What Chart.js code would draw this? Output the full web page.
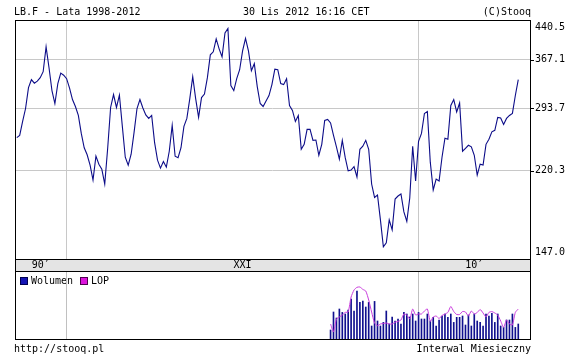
<!DOCTYPE html>
<html>
<head>
<meta charset="utf-8">
<script src="https://cdn.jsdelivr.net/npm/chart.js@4.4.0/dist/chart.umd.min.js"></script>
<style>
html, body { margin: 0; padding: 0; background: #fff; }
#wrap { position: relative; width: 567px; height: 363px; }
#wrap canvas { position: absolute; left: 0; top: 0; }
</style>
</head>
<body>
<div id="wrap">
  <canvas id="priceChart" width="567" height="363"></canvas>
  <canvas id="volChart" width="567" height="363"></canvas>
</div>
<script>
// months counted from Jan 1998 (0 = 1998-01)
const PRICE_START = 7;   // 1998-08
const VOL_START = 114;   // 2007-07
const X_MIN = 6.4, X_MAX = 182;

const decadeStarts = [24, 144];            // 2000-01, 2010-01
const decadeLabels = ['90\u2032', 'XXI', '10\u2032'];
const priceTicks = [147.0, 220.3, 293.7, 367.1, 440.5];

const price = [
  256.7, 259.3, 276.5, 293.4, 323.0, 334.9, 329.6, 332.7, 338.0, 347.4,
  389.4, 353.8, 318.6, 300.2, 328.9, 345.1, 341.9, 336.5, 322.2, 305.7,
  296.1, 284.2, 261.7, 245.0, 237.2, 226.2, 211.2, 235.7, 227.2, 222.1,
  207.4, 244.4, 294.8, 312.8, 294.8, 312.1, 270.3, 234.6, 226.2, 237.8,
  262.9, 293.4, 305.7, 294.1, 284.9, 280.3, 284.2, 250.9, 231.4, 223.1,
  229.9, 224.1, 241.1, 271.5, 235.7, 234.1, 245.0, 270.3, 280.3, 307.1,
  339.6, 307.1, 281.6, 308.5, 313.5, 338.0, 375.4, 380.6, 403.9, 385.9,
  372.0, 415.1, 423.8, 325.9, 318.6, 336.5, 350.6, 382.4, 404.9, 382.4,
  349.0, 360.4, 324.4, 300.2, 296.1, 303.6, 311.4, 327.4, 351.4, 350.6,
  328.9, 327.4, 336.5, 297.5, 290.8, 276.5, 284.2, 243.3, 248.9, 266.6,
  266.6, 253.5, 253.9, 236.7, 248.9, 277.7, 279.0, 274.6, 259.3, 246.1,
  232.5, 253.5, 234.1, 220.4, 221.1, 224.6, 214.2, 243.3, 246.7, 253.5,
  243.3, 207.4, 195.0, 197.2, 175.9, 155.5, 158.4, 175.9, 168.1, 193.6,
  196.3, 198.1, 182.5, 174.7, 194.5, 246.7, 210.3, 252.4, 261.7, 286.8,
  289.5, 229.3, 201.8, 212.2, 210.3, 234.6, 255.9, 254.7, 297.5, 305.7,
  288.8, 300.9, 241.1, 244.4, 247.8, 246.1, 236.7, 216.1, 227.2, 226.2,
  248.9, 254.7, 263.6, 265.4, 281.6, 280.9, 272.7, 280.3, 284.2, 286.8,
  311.4, 334.9
];

// volume, relative units (no scale shown on the chart)
const volume = [
  9, 27, 21, 30, 26.6, 25, 29, 40, 28, 48,
  36.6, 38, 32, 36.6, 13, 37.6, 18, 13, 16.6, 28,
  15, 22, 18, 20, 15, 26.6, 25, 22, 25, 18,
  26.6, 20, 20, 25, 18, 21.7, 13, 19, 23, 25,
  21.7, 25, 16.6, 21.7, 21.7, 23, 14, 24, 13, 25,
  18, 16.6, 13, 25, 23, 25.6, 16.6, 25, 13, 11.6,
  19, 19, 25, 11.6, 15
];

const lop = [
  15, 7, 20, 22, 24, 26.6, 27, 42, 49, 51.7,
  52, 49.6, 48, 39, 27, 16, 13.3, 15, 15.5, 16,
  15, 15, 16.8, 17.6, 19, 25, 24, 20, 30, 24,
  25, 25, 28, 30, 17.5, 22, 23, 20.5, 23.5, 25,
  26.6, 32.5, 27.5, 24.5, 24.5, 27.5, 27, 23, 28, 25,
  26.5, 29.5, 26, 22, 26.6, 27.4, 26, 24, 18, 11.6,
  19, 15, 14, 26.6, 30
];

const GRID = '#c8c8c8';
const LINE_COLOR = '#0c0c88';
const VOL_COLOR = '#10108e';
const LOP_COLOR = '#c83cdc';
const FONT = '10px "DejaVu Sans Mono", "Liberation Mono", monospace';

const FRAME = { left: 15, right: 530, top: 20, priceBottom: 259, bandBottom: 271, bottom: 339 };

function xAxis() {
    return {
        type: 'linear', min: X_MIN, max: X_MAX, offset: false,
        afterBuildTicks: s => { s.ticks = decadeStarts.map(v => ({ value: v })); },
        afterFit: s => { s.height = 0; },
        ticks: { display: false },
        grid: { color: GRID, drawTicks: false, lineWidth: 1, offset: false },
        border: { display: false }
    };
}

function hline(ctx, x1, x2, y) { ctx.beginPath(); ctx.moveTo(x1, y + 0.5); ctx.lineTo(x2, y + 0.5); ctx.stroke(); }
function vline(ctx, x, y1, y2) { ctx.beginPath(); ctx.moveTo(x + 0.5, y1); ctx.lineTo(x + 0.5, y2); ctx.stroke(); }

const priceDecor = {
    id: 'priceDecor',
    afterDraw(chart) {
        const ctx = chart.ctx, ys = chart.scales.y, xs = chart.scales.x;
        const a = chart.chartArea;
        ctx.save();
        // band between panels
        ctx.fillStyle = '#e4e4e4';
        ctx.fillRect(FRAME.left, FRAME.priceBottom, FRAME.right - FRAME.left, FRAME.bandBottom - FRAME.priceBottom);
        ctx.strokeStyle = '#000';
        ctx.lineWidth = 1;
        hline(ctx, FRAME.left, FRAME.right + 1, FRAME.top);
        hline(ctx, FRAME.left, FRAME.right + 1, FRAME.priceBottom);
        hline(ctx, FRAME.left, FRAME.right + 1, FRAME.bandBottom);
        hline(ctx, FRAME.left, FRAME.right + 1, FRAME.bottom);
        vline(ctx, FRAME.left, FRAME.top, FRAME.bottom + 1);
        vline(ctx, FRAME.right, FRAME.top, FRAME.bottom + 1);

        // y labels + ticks
        ctx.font = FONT;
        ctx.fillStyle = '#000';
        ctx.textBaseline = 'middle';
        ctx.textAlign = 'left';
        priceTicks.forEach(v => {
            const py = ys.getPixelForValue(v);
            if (py > a.top + 2 && py < a.bottom - 2) hline(ctx, FRAME.right, FRAME.right + 4, Math.round(py));
            const ly = Math.min(Math.max(py, a.top + 7), a.bottom - 7);
            ctx.fillText(v.toFixed(1), 535, ly);
        });

        // decade labels in band
        const bounds = [a.left, ...decadeStarts.map(v => xs.getPixelForValue(v)), a.right];
        ctx.textAlign = 'center';
        decadeLabels.forEach((t, i) => ctx.fillText(t, (bounds[i] + bounds[i + 1]) / 2, 265.5));
        decadeStarts.forEach(v => vline(ctx, Math.floor(xs.getPixelForValue(v)), FRAME.bandBottom, FRAME.bandBottom + 4));

        // header / footer
        ctx.textAlign = 'left';
        ctx.fillText('LB.F - Lata 1998-2012', 14, 12);
        ctx.fillText('30 Lis 2012 16:16 CET', 243, 12);
        ctx.fillText('http://stooq.pl', 14, 349);
        ctx.textAlign = 'right';
        ctx.fillText('(C)Stooq', 531, 12);
        ctx.fillText('Interwal Miesieczny', 531, 349);

        // legend
        ctx.textAlign = 'left';
        ctx.fillStyle = '#1414b4';
        ctx.fillRect(21, 278, 6, 6);
        ctx.strokeStyle = '#000050';
        ctx.strokeRect(20.5, 277.5, 7, 7);
        ctx.fillStyle = '#000';
        ctx.fillText('Wolumen', 31, 281.5);
        ctx.fillStyle = '#dc14dc';
        ctx.fillRect(81, 278, 6, 6);
        ctx.strokeStyle = '#500050';
        ctx.strokeRect(80.5, 277.5, 7, 7);
        ctx.fillStyle = '#000';
        ctx.fillText('LOP', 91, 281.5);
        ctx.restore();
    }
};

// decade grid lines of the volume panel, drawn through its own x scale
const volGrid = {
    id: 'volGrid',
    beforeDatasetsDraw(chart) {
        const ctx = chart.ctx, xs = chart.scales.x, a = chart.chartArea;
        ctx.save();
        ctx.strokeStyle = '#c0c0c0';
        ctx.lineWidth = 1;
        decadeStarts.forEach(v => vline(ctx, Math.floor(xs.getPixelForValue(v)), a.top, a.bottom));
        ctx.restore();
    }
};

new Chart(document.getElementById('priceChart'), {
    type: 'line',
    data: {
        datasets: [{
            data: price.map((v, i) => ({ x: PRICE_START + i, y: v })),
            borderColor: LINE_COLOR,
            borderWidth: 1.1,
            pointRadius: 0,
            tension: 0
        }]
    },
    options: {
        responsive: false, animation: false, devicePixelRatio: 1,
        layout: { padding: { left: FRAME.left, right: 567 - FRAME.right, top: FRAME.top, bottom: 363 - FRAME.priceBottom } },
        plugins: { legend: { display: false }, tooltip: { enabled: false } },
        scales: {
            x: xAxis(),
            y: {
                type: 'logarithmic', position: 'right', min: 147, max: 440.5,
                afterBuildTicks: s => { s.ticks = priceTicks.map(v => ({ value: v })); },
                afterFit: s => { s.width = 0; },
                ticks: { display: false },
                grid: { color: GRID, drawTicks: false },
                border: { display: false }
            }
        }
    },
    plugins: [priceDecor]
});

const volX = xAxis();
volX.grid.display = false;

new Chart(document.getElementById('volChart'), {
    type: 'bar',
    data: {
        datasets: [
            {
                type: 'line',
                data: lop.map((v, i) => ({ x: VOL_START + i, y: v })),
                borderColor: LOP_COLOR,
                borderWidth: 1,
                pointRadius: 0,
                tension: 0.2,
                order: 0
            },
            {
                type: 'bar',
                data: volume.map((v, i) => ({ x: VOL_START + i, y: v })),
                backgroundColor: VOL_COLOR,
                barThickness: 1,
                order: 1
            }
        ]
    },
    options: {
        responsive: false, animation: false, devicePixelRatio: 1,
        layout: { padding: { left: FRAME.left, right: 567 - FRAME.right, top: FRAME.bandBottom + 1, bottom: 363 - FRAME.bottom } },
        plugins: { legend: { display: false }, tooltip: { enabled: false } },
        scales: {
            x: volX,
            y: { min: 0, max: 67, display: false }
        }
    },
    plugins: [volGrid]
});
</script>
</body>
</html>
